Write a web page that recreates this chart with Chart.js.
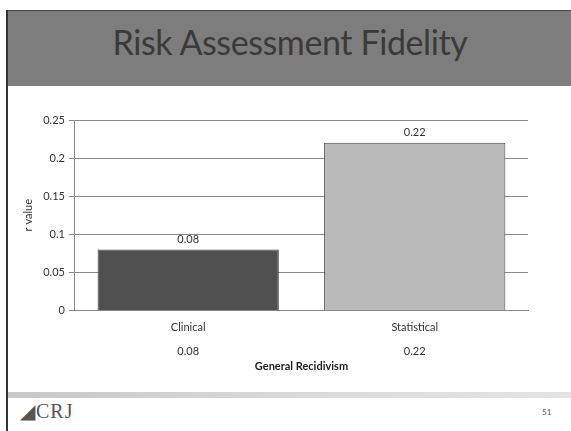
<!DOCTYPE html>
<html>
<head>
<meta charset="utf-8">
<script src="https://cdn.jsdelivr.net/npm/chart.js@4"></script>
<style>
  html, body { margin: 0; padding: 0; background: #fff; }
  body { width: 571px; height: 431px; position: relative; overflow: hidden; font-family: Lato, "Open Sans", sans-serif; }
  #band { position: absolute; left: 7px; top: 10px; width: 564px; height: 75px; background: #7d7d7d; border-top: 1px solid #444; }
  #title { position: absolute; left: 0; top: 21px; width: 580px; text-align: center; font-size: 34px; color: #3a3a3a; letter-spacing: -0.4px; }
  #edge { position: absolute; left: 6px; top: 10px; width: 2px; height: 421px; background: #333; }
  #foot { position: absolute; left: 8px; top: 392px; width: 563px; height: 6px; background: linear-gradient(90deg, #c8c8c8, #dcdcdc 60%, #e4e4e4); }
  #logo { position: absolute; left: 20px; top: 399px; font-size: 20px; color: #555; font-family: "Liberation Serif", serif; letter-spacing: 1px; }
  #page { position: absolute; left: 542px; top: 407px; font-size: 8px; color: #555; }
  #wrap { position: absolute; left: 0; top: 0; width: 571px; height: 431px; }
</style>
</head>
<body>
<div id="band"></div>
<div id="title">Risk Assessment Fidelity</div>
<div id="edge"></div>
<div id="foot"></div>
<div id="logo">&#9698;CRJ</div>
<div id="page">51</div>
<div id="wrap"><canvas id="myChart" width="571" height="431"></canvas></div>
<script>
const categories = ["Clinical", "Statistical"];
const rValues = [0.08, 0.22];
const yTicks = [0, 0.05, 0.1, 0.15, 0.2, 0.25];
const barColors = ["#505050", "#b9b9b9"];

// valeurs au-dessus des barres
const barLabels = {
	id: "barLabels",
	afterDatasetsDraw(chart) {
		const ctx = chart.ctx;
		const meta = chart.getDatasetMeta(0);
		ctx.save();
		ctx.font = "11px Lato, sans-serif";
		ctx.fillStyle = "#333";
		ctx.textAlign = "center";
		ctx.textBaseline = "bottom";
		meta.data.forEach((bar, i) => {
			ctx.fillText(rValues[i].toFixed(2), bar.x, bar.y - 5);
		});
		ctx.restore();
	},
};

const ctx = document.getElementById("myChart").getContext("2d");
const myChart = new Chart(ctx, {
	type: "bar",
	data: {
		labels: categories.map((c, i) => [c, rValues[i].toFixed(2)]),
		datasets: [
			{
				data: rValues,
				backgroundColor: barColors,
				borderColor: "#444",
				borderWidth: 1,
				barPercentage: 0.8,
				categoryPercentage: 1,
			},
		],
	},
	options: {
		responsive: false,
		animation: false,
		layout: { padding: { top: 120, right: 43, left: 18, bottom: 58 } },
		plugins: { legend: { display: false }, tooltip: { enabled: false } },
		scales: {
			y: {
				min: 0,
				max: 0.25,
				afterBuildTicks: (scale) => {
					scale.ticks = yTicks.map((v) => ({ value: v }));
				},
				ticks: {
					color: "#333",
					font: { family: "Lato", size: 11 },
					padding: 4,
					callback: (v) => String(v),
				},
				grid: { color: "#8a8a8a", tickLength: 6, tickColor: "#8a8a8a" },
				border: { color: "#8a8a8a" },
				title: { display: true, text: "r value", color: "#333", font: { family: "Lato", size: 11 }, padding: 4 },
			},
			x: {
				ticks: {
					color: "#333",
					font: { family: "Lato", size: 11, lineHeight: 2.2 },
					padding: -3,
				},
				grid: { display: false },
				border: { color: "#8a8a8a" },
				title: { display: true, text: "General Recidivism", color: "#222", font: { family: "Lato", size: 11, weight: "bold" }, padding: { top: -1, bottom: 0 } },
			},
		},
	},
	plugins: [barLabels],
});
</script>
</body>
</html>
